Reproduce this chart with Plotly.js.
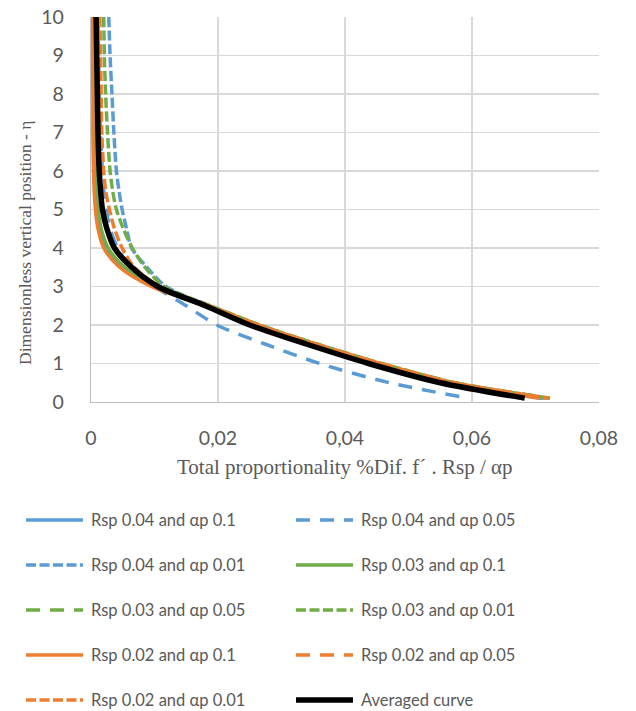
<!DOCTYPE html>
<html>
<head>
<meta charset="utf-8">
<script src="https://cdn.plot.ly/plotly-3.0.1.min.js"></script>
<style>html,body{margin:0;padding:0;background:#fff;}#chart{width:636px;height:711px;}</style>
</head>
<body>
<div id="chart"></div>
<script>
// Dimensionless vertical position (eta)
const eta = [10, 9, 8, 7, 6, 5.5, 5, 4.5, 4, 3.5, 3, 2.5, 2, 1.5, 1, 0.5, 0.1];

// Total proportionality values for each case
const rsp004_ap01  = [0.0004,0.0004,0.0005,0.0005,0.0006,0.0007,0.0009,0.0014,0.0024,0.0050,0.0100,0.0180,0.0258,0.0348,0.0447,0.0563,0.0710];
const rsp004_ap005 = [0.0011,0.0012,0.0013,0.0015,0.0018,0.0020,0.0024,0.0030,0.0042,0.0062,0.0100,0.0150,0.0198,0.0275,0.0360,0.0470,0.0594];
const rsp004_ap001 = [0.0028,0.0030,0.0033,0.0036,0.0040,0.0044,0.0049,0.0056,0.0064,0.0088,0.0118,0.0185,0.0262,0.0352,0.0452,0.0568,0.0715];
const rsp003_ap01  = [0.0005,0.0005,0.0006,0.0006,0.0007,0.0008,0.0011,0.0016,0.0027,0.0053,0.0102,0.0182,0.0260,0.0350,0.0450,0.0566,0.0712];
const rsp003_ap005 = [0.0010,0.0011,0.0012,0.0013,0.0015,0.0017,0.0020,0.0026,0.0036,0.0063,0.0108,0.0187,0.0265,0.0356,0.0457,0.0573,0.0723];
const rsp003_ap001 = [0.0020,0.0021,0.0023,0.0026,0.0030,0.0034,0.0040,0.0051,0.0065,0.0085,0.0115,0.0188,0.0266,0.0357,0.0458,0.0574,0.0722];
const rsp002_ap01  = [0.0002,0.0002,0.0003,0.0003,0.0004,0.0005,0.0007,0.0011,0.0020,0.0045,0.0095,0.0178,0.0255,0.0345,0.0443,0.0558,0.0705];
const rsp002_ap005 = [0.0009,0.0010,0.0011,0.0012,0.0014,0.0016,0.0019,0.0025,0.0035,0.0062,0.0108,0.0185,0.0263,0.0354,0.0455,0.0570,0.0720];
const rsp002_ap001 = [0.0014,0.0015,0.0016,0.0017,0.0020,0.0023,0.0029,0.0037,0.0049,0.0068,0.0108,0.0186,0.0264,0.0355,0.0456,0.0572,0.0721];
const averaged     = [0.0008,0.0009,0.0010,0.0011,0.0013,0.0015,0.0018,0.0025,0.0037,0.0064,0.0105,0.0180,0.0250,0.0340,0.0437,0.0550,0.0683];

const seriesNames = ["Rsp 0.04 and αp 0.1","Rsp 0.04 and αp 0.05","Rsp 0.04 and αp 0.01",
                     "Rsp 0.03 and αp 0.1","Rsp 0.03 and αp 0.05","Rsp 0.03 and αp 0.01",
                     "Rsp 0.02 and αp 0.1","Rsp 0.02 and αp 0.05","Rsp 0.02 and αp 0.01","Averaged curve"];
const seriesData = [rsp004_ap01,rsp004_ap005,rsp004_ap001,rsp003_ap01,rsp003_ap005,rsp003_ap001,
                    rsp002_ap01,rsp002_ap005,rsp002_ap001,averaged];

const xTickVals = [0, 0.02, 0.04, 0.06, 0.08];
const xTickText = ["0", "0,02", "0,04", "0,06", "0,08"];
const yTickVals = [0,1,2,3,4,5,6,7,8,9,10];
const xTitle = "Total proportionality %Dif. f´ . Rsp / αp";
const yTitle = "Dimensionless vertical position - η";

// styles
const BLUE = "#5B9BD5", GREEN = "#70AD47", ORANGE = "#ED7D31";
const colors = [BLUE,BLUE,BLUE,GREEN,GREEN,GREEN,ORANGE,ORANGE,ORANGE,"#000000"];
const DASH = "14px,10px", SYS = "10px,3.5px";
const dashes = ["solid",DASH,SYS,"solid",DASH,SYS,"solid",DASH,SYS,"solid"];
const widths = [3.5,3.5,3.5,3.5,3.5,3.5,3.5,3.5,3.5,5.5];
// draw order
const order = [0,3,2,5,1,4,8,7,6,9];

const traces = order.map(i => ({
  type: "scatter", mode: "lines", name: seriesNames[i],
  x: seriesData[i], y: eta,
  line: {color: colors[i], width: widths[i], dash: dashes[i], shape: "spline", smoothing: 0.8},
  showlegend: false, hoverinfo: "skip"
}));

// plot area in pixels
const L = 91, R = 599, T = 17, B = 402;
const W = R - L, H = B - T;
const px = v => (v - L) / W;
const py = v => (B - v) / H;

const FONT = "Lato, 'Liberation Sans', sans-serif";
const SERIF = "'Liberation Serif', 'Times New Roman', serif";
const GRAY = "#595959";

// manual two-column legend
const rows = [520, 565, 610, 655, 700];
const shapes = [], annotations = [];
seriesNames.forEach((n, i) => {
  const col = i % 2, row = Math.floor(i / 2);
  const x0 = col === 0 ? 26 : 296;
  const y = rows[row];
  shapes.push({type: "line", xref: "paper", yref: "paper",
    x0: px(x0), x1: px(x0 + 57), y0: py(y), y1: py(y),
    line: {color: colors[i], width: widths[i], dash: dashes[i]}});
  annotations.push({xref: "paper", yref: "paper", x: px(x0 + 63), y: py(y),
    xanchor: "left", yanchor: "middle", showarrow: false, text: n,
    font: {family: FONT, size: 16.5, color: GRAY}});
});
// axis titles
annotations.push({xref: "paper", yref: "paper", x: px(345), y: py(467),
  xanchor: "center", yanchor: "middle", showarrow: false, text: xTitle,
  font: {family: SERIF, size: 21, color: GRAY}});
annotations.push({xref: "paper", yref: "paper", x: px(25), y: py(243),
  xanchor: "center", yanchor: "middle", showarrow: false, text: yTitle, textangle: -90,
  font: {family: SERIF, size: 17.5, color: GRAY}});

const layout = {
  width: 636, height: 711,
  margin: {l: L, r: 636 - R, t: T, b: 711 - B},
  paper_bgcolor: "#ffffff", plot_bgcolor: "#ffffff",
  showlegend: false,
  font: {family: FONT, color: GRAY, size: 16},
  xaxis: {
    range: [0, 0.08], tickvals: xTickVals, ticktext: xTickText,
    showgrid: true, gridcolor: "#d9d9d9", gridwidth: 1.3,
    zeroline: false, showline: true, linecolor: "#bfbfbf", linewidth: 1.3,
    ticks: "outside", ticklen: 18, tickcolor: "rgba(0,0,0,0)",
    tickfont: {family: FONT, size: 19.5, color: GRAY},
    automargin: false, fixedrange: true
  },
  yaxis: {
    range: [0, 10], tickvals: yTickVals,
    showgrid: true, gridcolor: "#d9d9d9", gridwidth: 1.3,
    zeroline: false, showline: true, linecolor: "#bfbfbf", linewidth: 1.3,
    ticks: "outside", ticklen: 22, tickcolor: "rgba(0,0,0,0)",
    tickfont: {family: FONT, size: 19.5, color: GRAY},
    automargin: false, fixedrange: true
  },
  shapes: shapes,
  annotations: annotations
};

Plotly.newPlot("chart", traces, layout, {staticPlot: true, displayModeBar: false});
</script>
</body>
</html>
